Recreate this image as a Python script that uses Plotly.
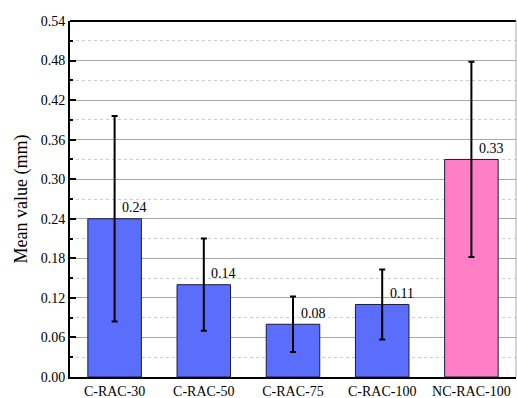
import plotly.graph_objects as go

categories = ["C-RAC-30", "C-RAC-50", "C-RAC-75", "C-RAC-100", "NC-RAC-100"]
means = [0.24, 0.14, 0.08, 0.11, 0.33]
errors = [0.156, 0.070, 0.042, 0.053, 0.148]
labels = ["0.24", "0.14", "0.08", "0.11", "0.33"]
bar_colors = ["#5a6dfd", "#5a6dfd", "#5a6dfd", "#5a6dfd", "#fe7fc6"]

FONT = "'Liberation Serif', 'Times New Roman', Times, serif"

fig = go.Figure()
fig.add_trace(go.Bar(
    x=categories, y=means, width=0.6,
    marker=dict(color=bar_colors, line=dict(color="#1a1a40", width=1)),
    error_y=dict(type="data", array=errors, visible=True, color="black",
                 thickness=2, width=3),
    showlegend=False,
))

for c, m, t in zip(categories, means, labels):
    fig.add_annotation(x=c, y=m, text=t, showarrow=False, xshift=20, yshift=11,
                       font=dict(family=FONT, size=14, color="black"))

fig.update_layout(
    width=517, height=398,
    margin=dict(l=70, r=1, t=21, b=21),
    plot_bgcolor="white", paper_bgcolor="white",
    font=dict(family=FONT, size=14, color="black"),
    bargap=0.4,
    xaxis=dict(showline=True, linecolor="black", linewidth=2, ticks="",
               tickfont=dict(family=FONT, size=14), showgrid=False,
               automargin=False, ticklabelstandoff=0),
    yaxis=dict(range=[0, 0.54], dtick=0.06, tick0=0, tickformat=".2f",
               showline=True, linecolor="black", linewidth=2,
               ticks="inside", ticklen=6, tickwidth=2, tickcolor="black",
               showgrid=True, gridcolor="#a8a8a8", gridwidth=1,
               zeroline=False, automargin=False,
               title=dict(text="Mean value (mm)", font=dict(family=FONT, size=18), standoff=8),
               tickfont=dict(family=FONT, size=14),
               minor=dict(dtick=0.03, tick0=0, ticks="inside", ticklen=3,
                          tickwidth=1.5, tickcolor="black", showgrid=True,
                          gridcolor="#cccccc", griddash="dot", gridwidth=1)),
    shapes=[
        dict(type="line", xref="paper", yref="paper", x0=0, x1=1, y0=1, y1=1,
             line=dict(color="black", width=2)),
        dict(type="line", xref="paper", yref="paper", x0=1, x1=1, y0=0, y1=1,
             line=dict(color="#a8a8a8", width=1)),
    ],
)

fig.write_html("out.html")
